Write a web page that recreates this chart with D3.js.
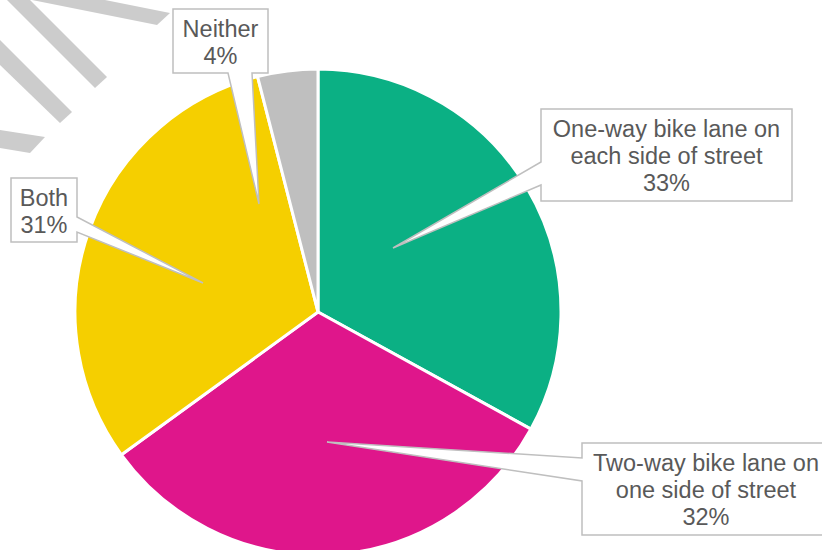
<!DOCTYPE html>
<html>
<head>
<meta charset="utf-8">
<script src="https://cdn.jsdelivr.net/npm/d3@7"></script>
<style>
  html, body { margin: 0; padding: 0; background: #fff; }
  svg { display: block; font-family: "Liberation Sans", Arial, sans-serif; }
</style>
</head>
<body>
<svg width="822" height="550"></svg>
<script>
const categories = ["One-way bike lane on each side of street", "Two-way bike lane on one side of street", "Both", "Neither"];
const values = [33, 32, 31, 4];
const colors = ["#0BB084", "#DF168B", "#F5CF00", "#BFBFBF"];
// label text split into lines as in the chart
const labelLines = [
  ["One-way bike lane on", "each side of street"],
  ["Two-way bike lane on", "one side of street"],
  ["Both"],
  ["Neither"]
];

const svg = d3.select("svg");
const cx = 318, cy = 312, radius = 243;

// faint watermark strokes, top left
const marks = [
  [[0,40],[72,112],[60,123],[0,65]],
  [[7,0],[30,0],[107,77],[95,88]],
  [[32,0],[105,0],[170,13],[157,25]],
  [[0,130],[45,137],[30,153],[0,148]]
];
svg.append("g").selectAll("polygon")
  .data(marks)
  .enter().append("polygon")
  .attr("points", d => d.map(p => p.join(",")).join(" "))
  .attr("fill", "#CCCCCC");

const data = categories.map((c, i) => ({category: c, value: values[i], color: colors[i], lines: labelLines[i]}));

const pie = d3.pie().sort(null).value(d => d.value);
const arc = d3.arc().innerRadius(0).outerRadius(radius);

svg.append("g")
  .attr("transform", `translate(${cx},${cy})`)
  .selectAll("path")
  .data(pie(data))
  .enter().append("path")
  .attr("d", arc)
  .attr("fill", d => d.data.color)
  .attr("stroke", "#fff")
  .attr("stroke-width", 3)
  .attr("stroke-linejoin", "round");

// callout layout: box, pointer side, pointer base, tip
const callouts = [
  {box: [541, 109, 792, 201], side: "left", base: [162, 185], tip: [393, 248]},
  {box: [582, 443, 830, 535], side: "left", base: [458, 481], tip: [327, 442]},
  {box: [11, 178, 77, 242], side: "right", base: [217, 232], tip: [203, 283]},
  {box: [173, 9, 268, 73], side: "bottom", base: [228, 252], tip: [259, 204]}
];

function calloutPath(c) {
  const [x0, y0, x1, y1] = c.box;
  const [b0, b1] = c.base;
  const [tx, ty] = c.tip;
  if (c.side === "left")
    return `M${x0},${y0}H${x1}V${y1}H${x0}V${b1}L${tx},${ty}L${x0},${b0}Z`;
  if (c.side === "right")
    return `M${x0},${y0}H${x1}V${b0}L${tx},${ty}L${x1},${b1}V${y1}H${x0}Z`;
  return `M${x0},${y0}H${x1}V${y1}H${b1}L${tx},${ty}L${b0},${y1}H${x0}Z`;
}

const labels = svg.append("g").selectAll("g")
  .data(data)
  .enter().append("g");

labels.append("path")
  .attr("d", (d, i) => calloutPath(callouts[i]))
  .attr("fill", "#fff")
  .attr("stroke", "#BFBFBF")
  .attr("stroke-width", 1.5);

labels.each(function(d, i) {
  const c = callouts[i];
  const g = d3.select(this);
  const lines = d.lines.concat([d.value + "%"]);
  const midX = (c.box[0] + c.box[2]) / 2;
  const text = g.append("text")
    .attr("text-anchor", "middle")
    .attr("fill", "#595959")
    .attr("font-size", "23.5px");
  lines.forEach((ln, j) => {
    text.append("tspan")
      .attr("x", midX)
      .attr("y", c.box[1] + 28 + j * 27)
      .text(ln);
  });
});
</script>
</body>
</html>
